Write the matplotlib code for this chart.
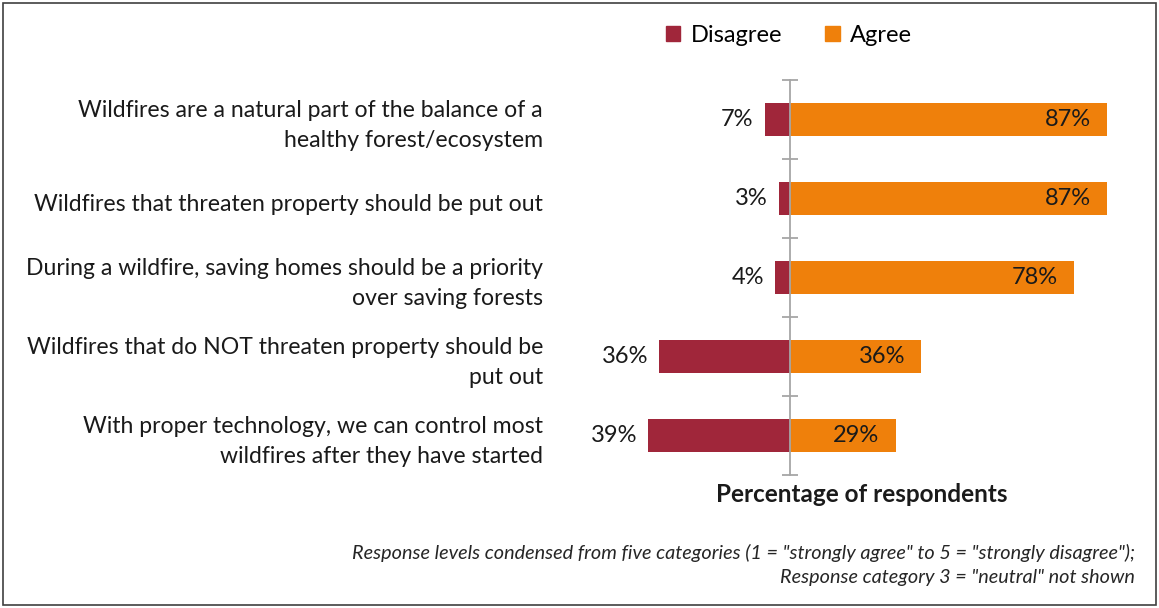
import numpy as np
import matplotlib.pyplot as plt
from matplotlib.patches import Rectangle

statements = [
    "Wildfires are a natural part of the balance of a\nhealthy forest/ecosystem",
    "Wildfires that threaten property should be put out",
    "During a wildfire, saving homes should be a priority\nover saving forests",
    "Wildfires that do NOT threaten property should be\nput out",
    "With proper technology, we can control most\nwildfires after they have started",
]
disagree = [7, 3, 4, 36, 39]
agree = [87, 87, 78, 36, 29]

RED = '#A0263A'
ORANGE = '#EF800B'
AXIS_GREY = '#A6A6A6'

plt.rcParams['font.family'] = ['Lato', 'DejaVu Sans']

fig = plt.figure(figsize=(11.59, 6.08), dpi=100)
W, H = 1159, 608

# plot area: zero line at x=790px, 3.64 px per percent
ax_left, ax_right = 600, 1124
ax_top, ax_bottom = 80, 475
ax = fig.add_axes([ax_left / W, 1 - ax_bottom / H, (ax_right - ax_left) / W, (ax_bottom - ax_top) / H])
ppp = 3.64
ax.set_xlim(-(790 - ax_left) / ppp, (ax_right - 790) / ppp)
ax.set_ylim(len(statements) - 0.5, -0.5)

y = np.arange(len(statements))
ax.barh(y, [-d for d in disagree], height=0.41, color=RED, zorder=2)
ax.barh(y, agree, height=0.41, color=ORANGE, zorder=2)

for yi, d, a in zip(y, disagree, agree):
    ax.annotate(f"{d}%", (-d, yi), xytext=(-11, 0), textcoords='offset pixels',
                ha='right', va='center', fontsize=17, color='#1a1a1a')
    ax.annotate(f"{a}%", (a, yi), xytext=(-16, 0), textcoords='offset pixels',
                ha='right', va='center', fontsize=17, color='#1a1a1a')

# the vertical axis sits at zero, with cross ticks between categories
for s in ['top', 'right', 'bottom']:
    ax.spines[s].set_visible(False)
ax.spines['left'].set_position(('data', 0))
ax.spines['left'].set_color(AXIS_GREY)
ax.spines['left'].set_linewidth(1.3)
ax.spines['left'].set_zorder(3)
ax.set_yticks([])
ax.set_yticks(np.arange(-0.5, len(statements), 1.0), minor=True)
ax.tick_params(axis='y', which='minor', direction='inout', length=12,
               width=1.3, color=AXIS_GREY, labelleft=False)
ax.set_xticks([])

# category labels sit a little below the bar centres
for yi, s in zip(y, statements):
    ax.annotate(s, (0, yi), xycoords=('figure fraction', 'data'),
                xytext=(543, -6), textcoords='offset pixels',
                ha='right', va='center', fontsize=16.6, linespacing=1.5,
                color='#1a1a1a', annotation_clip=False)

fig.text(862 / W, 1 - 495 / H, "Percentage of respondents", ha='center', va='center',
         fontsize=17.5, fontweight='bold', color='#1a1a1a')

# legend
leg = ax.legend(handles=[Rectangle((0, 0), 1, 1, color=RED), Rectangle((0, 0), 1, 1, color=ORANGE)],
                labels=['Disagree', 'Agree'], loc='center', ncol=2,
                bbox_to_anchor=(789 / W, 1 - 35 / H), bbox_transform=fig.transFigure,
                frameon=False, fontsize=17, handlelength=0.62, handleheight=0.62,
                handletextpad=0.45, columnspacing=1.8)

fig.text(1135 / W, 1 - 553 / H,
         'Response levels condensed from five categories (1 = "strongly agree" to 5 = "strongly disagree");',
         ha='right', va='center', fontsize=14.3, style='italic', color='#262626')
fig.text(1135 / W, 1 - 577 / H, 'Response category 3 = "neutral" not shown',
         ha='right', va='center', fontsize=14.3, style='italic', color='#262626')

# outer border
fig.add_artist(Rectangle((3 / W, 3 / H), 1153 / W, 602 / H, transform=fig.transFigure,
                         fill=False, edgecolor='#404040', linewidth=1.2))

fig.savefig('out.png', dpi=100)
